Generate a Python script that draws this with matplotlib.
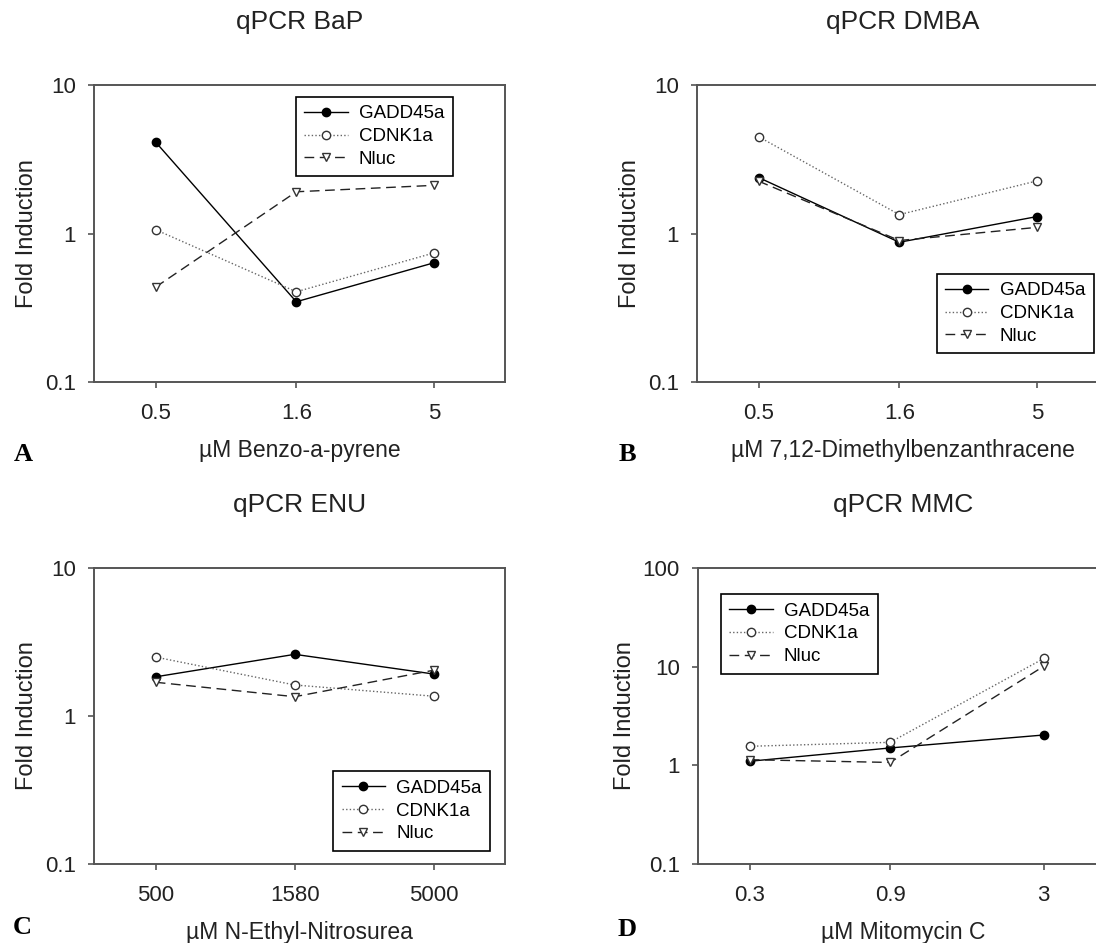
import matplotlib
matplotlib.use('Agg')
import matplotlib.pyplot as plt
import matplotlib.ticker as mticker

# data (fold induction, log scale)
series = ['GADD45a', 'CDNK1a', 'Nluc']

bap_dose = [0.5, 1.6, 5]
bap_gadd = [4.12, 0.347, 0.635]
bap_cdnk = [1.06, 0.405, 0.74]
bap_nluc = [0.436, 1.91, 2.11]

dmba_dose = [0.5, 1.6, 5]
dmba_gadd = [2.38, 0.873, 1.30]
dmba_cdnk = [4.48, 1.34, 2.26]
dmba_nluc = [2.25, 0.897, 1.10]

enu_dose = [500, 1580, 5000]
enu_gadd = [1.84, 2.61, 1.92]
enu_cdnk = [2.50, 1.62, 1.36]
enu_nluc = [1.69, 1.35, 2.04]

mmc_dose = [0.3, 0.9, 3]
mmc_gadd = [1.10, 1.50, 2.03]
mmc_cdnk = [1.56, 1.71, 12.1]
mmc_nluc = [1.14, 1.07, 10.1]

plt.rcParams['font.family'] = ['Liberation Sans', 'DejaVu Sans']

W, H = 1096, 943
fig = plt.figure(figsize=(W / 100, H / 100), dpi=100, facecolor='white')


def px_axes(l, t, r, b):
    return fig.add_axes([l / W, 1 - b / H, (r - l) / W, (b - t) / H])


styles = [
    dict(ls='-', marker='o', mfc='black', mec='black', color='black', lw=1.0),
    dict(ls=(0, (1, 1.6)), marker='o', mfc='white', mec='#333333', color='#666666', lw=1.0),
    dict(ls=(0, (7, 4)), marker='v', mfc='white', mec='#333333', color='#222222', lw=1.0),
]

panels = [
    dict(box=(94, 85, 505, 382), title='qPCR BaP', xlabel='\u00b5M Benzo-a-pyrene',
         dose=bap_dose, vals=[bap_gadd, bap_cdnk, bap_nluc], xlim=(0.3, 9), ylim=(0.1, 10),
         yticks=[0.1, 1, 10], leg=('upper right', (0.873, 0.96)), letter='A', lpos=(23, 455)),
    dict(box=(697, 85, 1108, 382), title='qPCR DMBA', xlabel='\u00b5M 7,12-Dimethylbenzanthracene',
         dose=dmba_dose, vals=[dmba_gadd, dmba_cdnk, dmba_nluc], xlim=(0.3, 9), ylim=(0.1, 10),
         yticks=[0.1, 1, 10], leg=('upper right', (0.965, 0.364)), letter='B', lpos=(627, 455)),
    dict(box=(94, 568, 505, 864), title='qPCR ENU', xlabel='\u00b5M N-Ethyl-Nitrosurea',
         dose=enu_dose, vals=[enu_gadd, enu_cdnk, enu_nluc], xlim=(300, 9000), ylim=(0.1, 10),
         yticks=[0.1, 1, 10], leg=('upper left', (0.582, 0.313)), letter='C', lpos=(22, 927)),
    dict(box=(698, 568, 1109, 864), title='qPCR MMC', xlabel='\u00b5M Mitomycin C',
         dose=mmc_dose, vals=[mmc_gadd, mmc_cdnk, mmc_nluc], xlim=(0.2, 5), ylim=(0.1, 100),
         yticks=[0.1, 1, 10, 100], leg=('upper left', (0.056, 0.912)), letter='D', lpos=(627, 929)),
]

for p in panels:
    ax = px_axes(*p['box'])
    for name, v, st in zip(series, p['vals'], styles):
        ax.plot(p['dose'], v, label=name, ms=6, mew=1.0, **st)

    ax.set_xscale('log')
    ax.set_yscale('log')
    ax.set_xlim(*p['xlim'])
    ax.set_ylim(*p['ylim'])
    ax.xaxis.set_major_locator(mticker.FixedLocator(p['dose']))
    ax.xaxis.set_major_formatter(mticker.FixedFormatter([f'{d:g}' for d in p['dose']]))
    ax.xaxis.set_minor_locator(mticker.NullLocator())
    ax.yaxis.set_major_locator(mticker.FixedLocator(p['yticks']))
    ax.yaxis.set_major_formatter(mticker.FixedFormatter([f'{t:g}' for t in p['yticks']]))
    ax.yaxis.set_minor_locator(mticker.NullLocator())

    for s in ax.spines.values():
        s.set_color('#555555')
        s.set_linewidth(1.4)
    ax.tick_params(direction='out', length=4, width=1.2, color='#555555',
                   labelsize=16, labelcolor='#222222')
    ax.tick_params(axis='x', pad=11)
    ax.tick_params(axis='y', pad=9)

    ax.set_xlabel(p['xlabel'], fontsize=16.5, color='#222222', labelpad=11)
    ax.set_ylabel('Fold Induction', fontsize=17, color='#222222', labelpad=5)

    l, t, r, b = p['box']
    fig.text((l + 411 / 2) / W, 1 - (t - 63) / H, p['title'], fontsize=19,
             color='#222222', ha='center', va='center')
    fig.text(p['lpos'][0] / W, 1 - p['lpos'][1] / H, p['letter'], fontsize=19,
             family='Liberation Serif', weight='bold', ha='center', va='center')

    leg = ax.legend(loc=p['leg'][0], bbox_to_anchor=p['leg'][1], fontsize=13.5,
                    frameon=True, fancybox=False, edgecolor='black', framealpha=1,
                    handlelength=2.3, handletextpad=0.6, labelspacing=0.3,
                    borderpad=0.45, borderaxespad=0)
    leg.get_frame().set_linewidth(1.2)

fig.savefig('out.png', dpi=100)
